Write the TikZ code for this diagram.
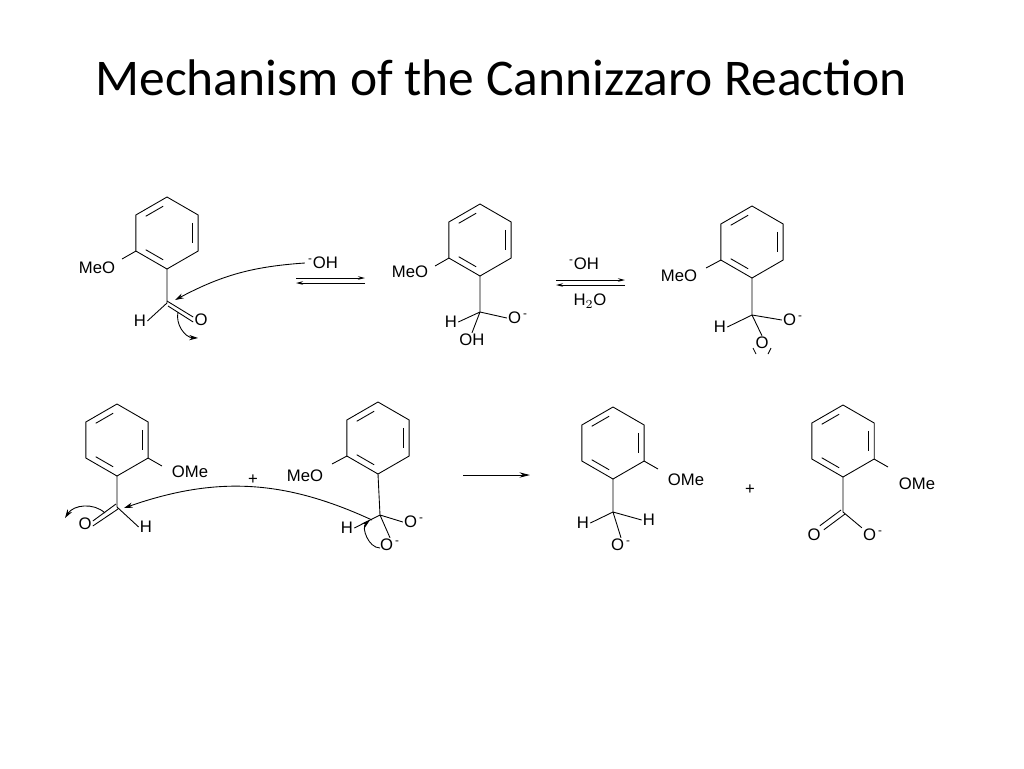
\documentclass[tikz,border=0pt]{standalone}
\usepackage{fontspec}
\setmainfont{Liberation Sans}
\newfontfamily\titlefont{Carlito}
\usetikzlibrary{arrows.meta,calc}
% benzene ring, pointy top, centre at (#1,#2) in pixel units
\newcommand\benz[2]{%
  \draw (#1,#2) +(270:36) -- +(330:36) -- +(30:36) -- +(90:36) -- +(150:36) -- +(210:36) -- cycle;
  \foreach \a/\b in {210/270,330/30,90/150}
    \draw[shorten <=2.5pt,shorten >=2.5pt] ($(#1,#2)+(\a:29)$) -- ($(#1,#2)+(\b:29)$);%
}
\newcommand\minus{\textsuperscript{\,-}}
\begin{document}
\begin{tikzpicture}[x=0.02cm,y=-0.02cm,line width=0.5pt,
  atom/.style={font=\fontsize{9.5}{10}\selectfont,inner sep=0.5pt},
  curly/.style={-{Stealth[length=5pt,width=3pt]}},
  rxn/.style={-{Stealth[length=6pt,width=3pt]}}]
\useasboundingbox (0,0) rectangle (1024,768);
\node[font=\titlefont\fontsize{29.3}{34}\selectfont] (title) at (501,78) {Mechanism of the Cannizzaro Reaction};
%==================
\benz{167}{233}
\draw (167,269) -- (167,303) (136,251) -- (122,259);
\node[atom] (meo1) at (97,268) {MeO};
\node[atom] (h1) at (140,321) {H};
\node[atom] (o1) at (201,320) {O};
\draw (167,303) -- (h1.east) ($(167,303)+(0,-2)$) -- ($(o1.west)+(0,-3)$) ($(167,303)+(1,3)$) -- ($(o1.west)+(0,2)$);
\node[atom] (oh1) at (322,263) {\minus OH};
\draw[curly] (oh1.west) to[bend right=12] (175,300);
\draw[curly] (178,312) to[bend right=50] (198,338);
\draw[-{Stealth[length=4pt,width=2pt]}] (296,278) -- (365,278);
\draw[-{Stealth[length=4pt,width=2pt]}] (365,283) -- (296,283);
%==================
\benz{480}{240}
\draw (480,276) -- (480,312) (449,258) -- (435,266);
\node[atom] (meo2) at (410,272) {MeO};
\node[atom] (h2) at (451,322) {H};
\node[atom] (o2) at (518,318) {O\minus};
\node[atom] (oh2) at (472,340) {OH};
\draw (480,312) -- (h2.east) (480,312) -- (o2.west) (480,312) -- (oh2.north);
%==================
\node[atom] (oh3) at (583,264) {\minus OH};
\node[atom] (h2o) at (590,301) {H$_2$O};
\draw[-{Stealth[length=4pt,width=2pt]}] (556,280) -- (625,280);
\draw[-{Stealth[length=4pt,width=2pt]}] (625,285) -- (556,285);
%==================
\benz{752}{242}
\draw (752,278) -- (752,315) (721,260) -- (706,268);
\node[atom] (meo3) at (679,276) {MeO};
\node[atom] (h3) at (720,327) {H};
\node[atom] (o3) at (793,320) {O\minus};
\node[atom] (o4) at (762,343) {O};
\draw (752,315) -- (h3.east) (752,315) -- (o3.west) (752,315) -- (o4.north);
\draw (753,348) -- (756,354) (771,348) -- (768,354);
%==================
\benz{117}{440}
\draw (117,476) -- (117,507) (148,458) -- (162,466);
\node[atom] (ome4) at (190,472) {OMe};
\node[atom] (o5) at (85,524) {O};
\node[atom] (h5) at (146,527) {H};
\draw (117,507) -- (h5.west) ($(117,507)+(-1,-3)$) -- ($(o5.east)+(0,-3)$) ($(117,507)+(1,2)$) -- ($(o5.east)+(0,2)$);
\draw[curly] (105,513) to[bend right=50] (65,518);
\node[atom] (plus1) at (253,480) {+};
%==================
\benz{378}{438}
\draw (378,474) -- (380,515) (347,456) -- (332,464);
\node[atom] (meo5) at (305,476) {MeO};
\node[atom] (h6) at (347,528) {H};
\node[atom] (o6) at (414,522) {O\minus};
\node[atom] (o7) at (390,545) {O\minus};
\draw (380,515) -- (h6.east) (380,515) -- (o6.west) (380,515) -- (o7.north);
\draw[curly] (372,520) to[bend right=22] (124,508);
\draw[curly] (380,548) to[bend left=70] (370,520);
%==================
\draw[rxn] (463,475) -- (530,475);
%==================
\benz{613}{443}
\draw (613,479) -- (613,512) (644,461) -- (658,469);
\node[atom] (ome6) at (686,480) {OMe};
\node[atom] (h7) at (583,523) {H};
\node[atom] (h8) at (649,520) {H};
\node[atom] (o8) at (621,545) {O\minus};
\draw (613,512) -- (h7.east) (613,512) -- (h8.west) (613,512) -- (o8.north);
\node[atom] (plus2) at (750,490) {+};
%==================
\benz{843}{441}
\draw (843,477) -- (843,512) (874,459) -- (888,467);
\node[atom] (ome7) at (917,484) {OMe};
\node[atom] (o9) at (814,535) {O};
\node[atom] (o10) at (873,535) {O\minus};
\draw (843,512) -- (o10.north west) ($(843,512)+(-2,-2)$) -- ($(o9.north east)+(-2,-2)$) ($(843,512)+(2,2)$) -- ($(o9.north east)+(2,2)$);
\end{tikzpicture}
\end{document}
